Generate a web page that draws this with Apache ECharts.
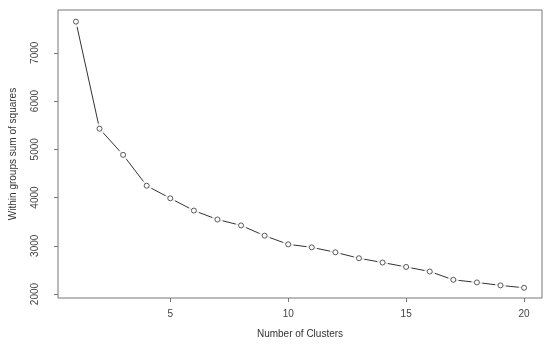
<!DOCTYPE html>
<html>
<head>
<meta charset="utf-8">
<script src="https://cdn.jsdelivr.net/npm/echarts@6/dist/echarts.min.js"></script>
<style>
html,body{margin:0;padding:0;background:#fff;}
#c{width:550px;height:344px;}
</style>
</head>
<body>
<div id="c"></div>
<script>
var clusters = [1,2,3,4,5,6,7,8,9,10,11,12,13,14,15,16,17,18,19,20];
var wss = [7645,5426,4884,4245,3984,3730,3545,3422,3209,3030,2968,2865,2742,2653,2562,2467,2295,2241,2179,2130];
var xTicks = [5,10,15,20];
var yTicks = [2000,3000,4000,5000,6000,7000];
var xTitle = 'Number of Clusters';
var yTitle = 'Within groups sum of squares';

var pts = clusters.map(function(c,i){return [c, wss[i]];});
var font = 'Liberation Sans, Arial, sans-serif';
var chart = echarts.init(document.getElementById('c'), null, {renderer:'canvas'});
chart.setOption({
  animation:false,
  backgroundColor:'#fff',
  grid:{left:47,right:8,top:10,bottom:44,show:true,borderColor:'#777',borderWidth:1,backgroundColor:'transparent'},
  xAxis:{
    type:'value',min:0.24,max:20.76,
    name:xTitle,nameLocation:'middle',nameGap:31,
    nameTextStyle:{fontFamily:font,fontSize:10,color:'#333'},
    axisLine:{show:false},
    splitLine:{show:false},
    axisTick:{show:true,length:4,inside:false,customValues:xTicks,lineStyle:{color:'#777'}},
    axisLabel:{customValues:xTicks,fontFamily:font,fontSize:10,color:'#444',margin:11,formatter:function(v){return String(v);}}
  },
  yAxis:{
    type:'value',min:1918,max:7886,
    name:yTitle,nameLocation:'middle',nameGap:40,
    nameTextStyle:{fontFamily:font,fontSize:10,color:'#333'},
    axisLine:{show:false},
    splitLine:{show:false},
    axisTick:{show:true,length:4,inside:false,customValues:yTicks,lineStyle:{color:'#777'}},
    axisLabel:{customValues:yTicks,fontFamily:font,fontSize:10,color:'#444',rotate:90,margin:18,formatter:function(v){return String(v);}}
  },
  series:[
    {type:'line',data:pts,showSymbol:false,lineStyle:{color:'#333',width:1},silent:true,z:2},
    {type:'scatter',data:pts,symbol:'circle',symbolSize:11,itemStyle:{color:'#fff'},silent:true,z:3},
    {type:'scatter',data:pts,symbol:'circle',symbolSize:5,itemStyle:{color:'#fff',borderColor:'#333',borderWidth:1},silent:true,z:4}
  ]
});
</script>
</body>
</html>
